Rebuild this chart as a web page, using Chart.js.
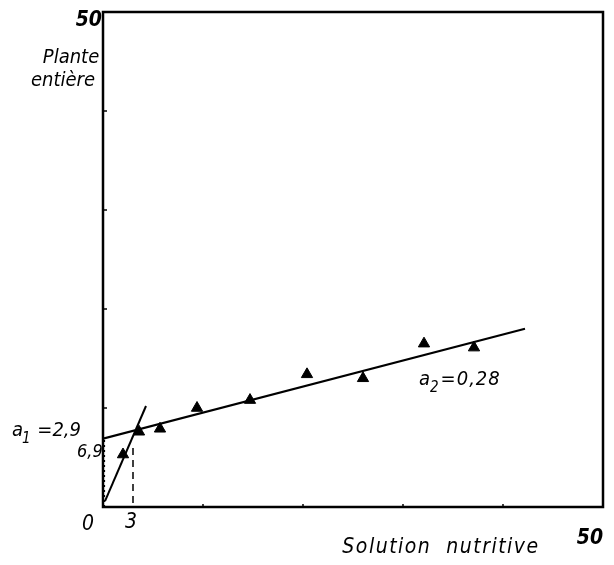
<!DOCTYPE html>
<html>
<head>
<meta charset="utf-8">
<script src="https://cdn.jsdelivr.net/npm/chart.js@4.4.1/dist/chart.umd.min.js"></script>
<style>
  html, body { margin: 0; padding: 0; background: #fff; }
  #wrap { width: 614px; height: 565px; }
</style>
</head>
<body>
<div id="wrap"><canvas id="c" width="614" height="565"></canvas></div>
<script>
// Measured points: whole plant vs. nutrient solution
const solution = [2.0, 3.6, 5.7, 9.4, 14.7, 20.4, 26.0, 32.1, 37.1];
const plante   = [5.3, 7.6, 7.9, 10.0, 10.8, 13.4, 13.0, 16.5, 16.1];

// Fitted segments (x, y end points)
const fit1X = [0.2, 4.3];
const fit1Y = [0.6, 10.2];
const fit2X = [0, 42.2];
const fit2Y = [6.9, 18.0];

// Reading guides
const guideX = [3, 3];
const guideY = [0.4, 6.2];
const guideAxisX = [0.15, 0.15];
const guideAxisY = [0, 6.9];

const axisMin = 0;
const axisMax = 50;
const minorTicks = [10, 20, 30, 40];

const pts = (xs, ys) => xs.map((x, i) => ({ x, y: ys[i] }));

const FAMILY = '"DejaVu Sans Condensed", "DejaVu Sans", sans-serif';
const font = (size, weight) => `italic ${weight || 'normal'} ${size}px ${FAMILY}`;

// text with a subscript after the first glyph, e.g. a₁ =2,9
function subText(ctx, base, sub, rest, x, y, size) {
  ctx.font = font(size);
  ctx.fillText(base, x, y);
  let cx = x + ctx.measureText(base).width;
  ctx.font = font(size * 0.75);
  ctx.fillText(sub, cx - 1, y + 8);
  cx += ctx.measureText(sub).width;
  ctx.font = font(size);
  ctx.fillText(rest, cx, y);
}

const framePlugin = {
  id: 'frame',
  afterDraw(chart) {
    const { ctx, chartArea: a, scales: { x, y } } = chart;
    ctx.save();
    ctx.strokeStyle = '#000';
    ctx.lineWidth = 2.5;
    ctx.strokeRect(a.left, a.top, a.right - a.left, a.bottom - a.top);

    // small inner ticks
    ctx.lineWidth = 1.5;
    minorTicks.forEach(v => {
      const py = y.getPixelForValue(v);
      ctx.beginPath(); ctx.moveTo(a.left, py); ctx.lineTo(a.left + 4, py); ctx.stroke();
      const px = x.getPixelForValue(v);
      ctx.beginPath(); ctx.moveTo(px, a.bottom); ctx.lineTo(px, a.bottom - 3); ctx.stroke();
    });

    ctx.fillStyle = '#000';
    ctx.textBaseline = 'middle';

    ctx.textAlign = 'right';
    ctx.font = font(21, 'bold');
    ctx.fillText(String(axisMax), a.left - 1, 21);

    ctx.textAlign = 'center';
    ctx.font = font(20);
    ctx.fillText('Plante', 71, 58);
    ctx.fillText('entière', 63, 81);

    ctx.font = font(21);
    ctx.fillText(String(axisMin), a.left - 15, a.bottom + 18);
    ctx.fillText('3', x.getPixelForValue(3) - 2, a.bottom + 16);
    ctx.font = font(21, 'bold');
    ctx.fillText(String(axisMax), 590, 539);
    ctx.font = font(21);
    ctx.letterSpacing = '1.5px';
    ctx.fillText('Solution  nutritive', 441, 548);

    // slope annotations
    ctx.textAlign = 'left';
    ctx.letterSpacing = '0px';
    subText(ctx, 'a', '1', ' =2,9', 12, 431, 20);
    ctx.font = font(18);
    ctx.fillText('6,9', 77, 452);
    ctx.letterSpacing = '1px';
    subText(ctx, 'a', '2', '=0,28', 419, 380, 20);
    ctx.letterSpacing = '0px';
    ctx.restore();
  }
};

new Chart(document.getElementById('c'), {
  type: 'scatter',
  data: {
    datasets: [
      {
        data: pts(fit1X, fit1Y), showLine: true, borderColor: '#000',
        borderWidth: 2, pointRadius: 0
      },
      {
        data: pts(fit2X, fit2Y), showLine: true, borderColor: '#000',
        borderWidth: 2.2, pointRadius: 0
      },
      {
        data: pts(guideX, guideY), showLine: true, borderColor: '#000',
        borderWidth: 1.5, borderDash: [7, 5], pointRadius: 0
      },
      {
        data: pts(guideAxisX, guideAxisY), showLine: true, borderColor: '#000',
        borderWidth: 1.2, borderDash: [2, 3], pointRadius: 0
      },
      {
        data: pts(solution, plante), pointStyle: 'triangle', pointRadius: 6.5,
        backgroundColor: '#000', borderColor: '#000', borderWidth: 1
      }
    ]
  },
  options: {
    responsive: false,
    animation: false,
    layout: { padding: { left: 103, top: 12, right: 11, bottom: 58 } },
    plugins: { legend: { display: false }, tooltip: { enabled: false } },
    scales: {
      x: { type: 'linear', display: false, min: axisMin, max: axisMax },
      y: { type: 'linear', display: false, min: axisMin, max: axisMax }
    }
  },
  plugins: [framePlugin]
});
</script>
</body>
</html>
